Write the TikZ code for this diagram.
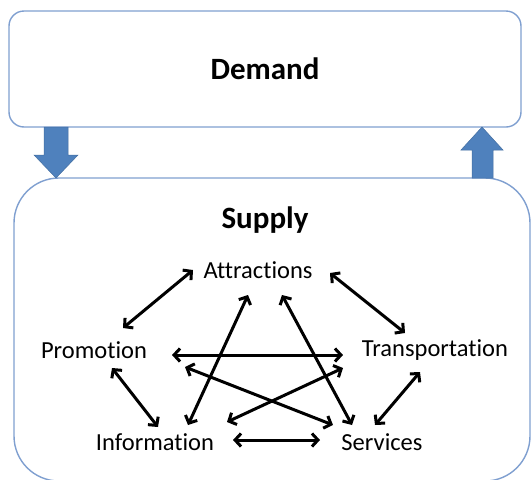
\documentclass[tikz,border=0pt]{standalone}
\usepackage{fontspec}
\setmainfont{Carlito}[Ligatures={NoCommon,NoContextual}]
\usetikzlibrary{arrows.meta}

\definecolor{boxblue}{HTML}{7F9FD0}
\definecolor{arrowblue}{HTML}{4F81BD}

\begin{document}
\begin{tikzpicture}[x=1pt, y=-1pt,
        box/.style={draw=boxblue, line width=1.4pt, inner sep=0},
        title/.style={font=\fontsize{31}{36}\selectfont\bfseries},
        item/.style={font=\fontsize{24.5}{28}\selectfont, inner sep=0},
        link/.style={line width=3pt, {Straight Barb[length=6pt,width=13pt]}-{Straight Barb[length=6pt,width=13pt]}},
        bigarrow/.style={fill=arrowblue, draw=arrowblue!85!black, line width=0.5pt}]
        \useasboundingbox (0,0) rectangle (531,480);
        \clip (0,0) rectangle (531,480);

        \node[box, rounded corners=15, minimum width=512, minimum height=116, title] (Dem) at (265,69) {Demand};
        \node[box, rounded corners=45, minimum width=516, minimum height=303] (Sup) at (272,329.5) {};
        \node[title] (SupT) at (265,220) {Supply};

        % block arrows between the boxes
        \filldraw[bigarrow] (44,127) -- (68,127) -- (68,155) -- (78,155) -- (56,178) -- (34,155) -- (44,155) -- cycle;
        \filldraw[bigarrow] (472,178) -- (493,178) -- (493,150) -- (503,150) -- (482,127) -- (461,150) -- (472,150) -- cycle;

        \node[item] (Attr) at (258,270) {Attractions};
        \node[item] (Prom) at (94,350) {Promotion};
        \node[item] (Trans) at (435,350) {Transportation};
        \node[item] (Info) at (155,442) {Information};
        \node[item] (Serv) at (382,442) {Services};

        \draw[link] ([shift={(29,-22)}]Prom.center) -- ([shift={(-65,0)}]Attr.center);
        \draw[link] ([shift={(72,3)}]Attr.center) -- ([shift={(-30,-17)}]Trans.center);
        \draw[link] ([shift={(78,5)}]Prom.center) -- ([shift={(-92,5)}]Trans.center);
        \draw[link] ([shift={(18,18)}]Prom.center) -- ([shift={(3,-15)}]Info.center);
        \draw[link] ([shift={(33,-17)}]Info.center) -- ([shift={(-10,25)}]Attr.center);
        \draw[link] ([shift={(24,25)}]Attr.center) -- ([shift={(-30,-17)}]Serv.center);
        \draw[link] ([shift={(91,17)}]Prom.center) -- ([shift={(-49,-17)}]Serv.center);
        \draw[link] ([shift={(72,-20)}]Info.center) -- ([shift={(-92,18)}]Trans.center);
        \draw[link] ([shift={(-15,22)}]Trans.center) -- ([shift={(-7,-17)}]Serv.center);
        \draw[link] ([shift={(78,-2)}]Info.center) -- ([shift={(-62,-2)}]Serv.center);
    \end{tikzpicture}
\end{document}
